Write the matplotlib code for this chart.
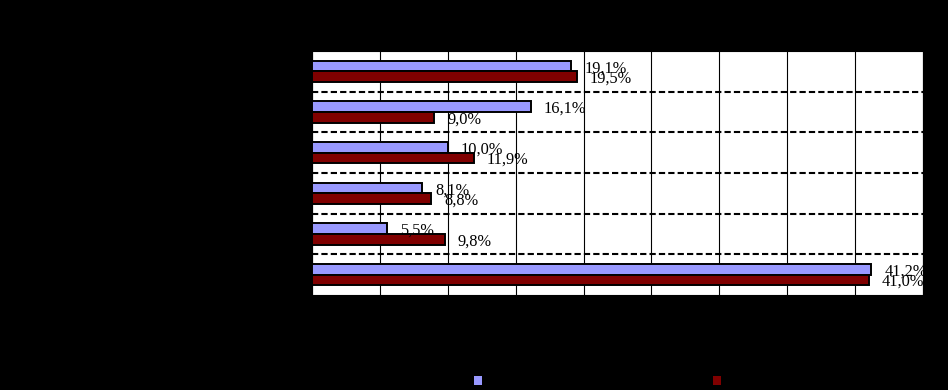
import matplotlib
matplotlib.use('Agg')
import matplotlib.pyplot as plt
import matplotlib.patches as mpatches
import numpy as np

# data (values in %, top group first)
groups = ['1', '2', '3', '4', '5', '6']
series_a = [19.1, 16.1, 10.0, 8.1, 5.5, 41.2]
series_b = [19.5, 9.0, 11.9, 8.8, 9.8, 41.0]
x_ticks = [0, 5, 10, 15, 20, 25, 30, 35, 40, 45]

BLUE = '#9999FF'
RED = '#800000'

fig = plt.figure(figsize=(9.48, 3.9), dpi=100)
fig.patch.set_facecolor('black')
ax = fig.add_axes([312/948, 1 - 295/390, 611/948, 244/390])
ax.set_facecolor('white')

y = np.arange(len(groups))
h = 0.265
ax.barh(y - 0.13, series_a, height=h, color=BLUE, edgecolor='black', linewidth=1.4, zorder=3)
ax.barh(y + 0.13, series_b, height=h, color=RED, edgecolor='black', linewidth=1.4, zorder=3)

ax.set_xlim(0, 45)
ax.set_ylim(len(groups) - 0.5, -0.5)
ax.set_xticks(x_ticks)
ax.set_xticklabels([])
ax.set_yticks(y)
ax.set_yticklabels([])
ax.tick_params(length=0)
ax.grid(axis='x', color='black', linewidth=0.8, zorder=1)

# dashed separators between groups
for b in np.arange(0.5, len(groups) - 0.5, 1.0):
    ax.axhline(b, color='black', linewidth=1.5, linestyle=(0, (3, 1.5)), zorder=2)

for sp in ax.spines.values():
    sp.set_color('black')

def fmt(v):
    return f"{v:.1f}".replace('.', ',') + '%'

for i in range(len(groups)):
    ax.annotate(fmt(series_a[i]), xy=(series_a[i], y[i] - 0.13), xytext=(9.3, -4.4),
                textcoords='offset points', va='baseline', ha='left',
                fontsize=11.8, family='Liberation Serif', color='black', zorder=4)
    ax.annotate(fmt(series_b[i]), xy=(series_b[i], y[i] + 0.13), xytext=(9.3, -4.4),
                textcoords='offset points', va='baseline', ha='left',
                fontsize=11.8, family='Liberation Serif', color='black', zorder=4)

handles = [mpatches.Patch(facecolor=BLUE, edgecolor='none'),
           mpatches.Patch(facecolor=RED, edgecolor='none')]
fig.legend(handles, [' ', ' '], ncol=2, loc='center',
           bbox_to_anchor=(602/948, 1 - 381/390), frameon=False,
           handlelength=0.6, handleheight=0.6, handletextpad=0.3,
           columnspacing=16.0, fontsize=10)

fig.savefig('out.png', dpi=100, facecolor='black')
